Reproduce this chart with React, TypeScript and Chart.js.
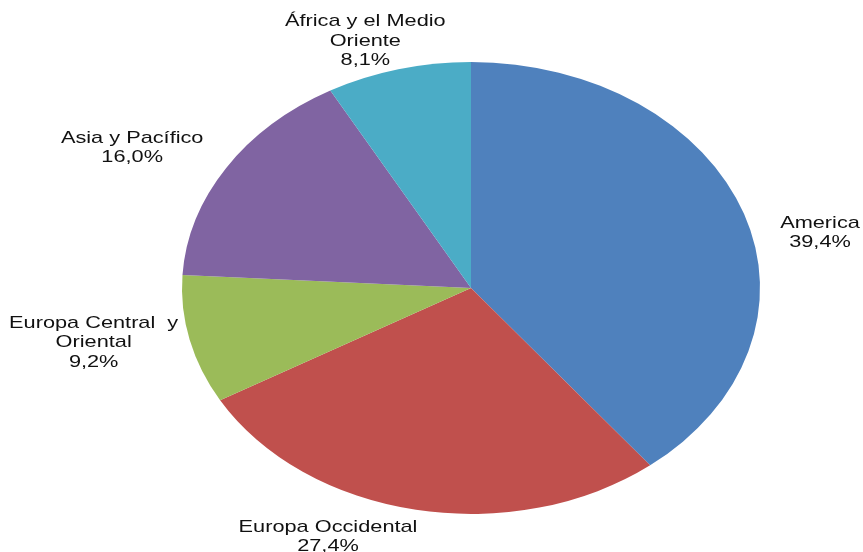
import React, { useEffect, useRef } from "react";
import { Chart, registerables } from "chart.js";

Chart.register(...registerables);

const categories = [
  "America",
  "Europa Occidental",
  "Europa Central  y\nOriental",
  "Asia y Pacífico",
  "África y el Medio\nOriente",
];
const shares = [39.4, 27.4, 9.2, 16.0, 8.1];
const sliceColors = ["#4F81BD", "#C0504D", "#9BBB59", "#8064A2", "#4BACC6"];

// label nudges (px) from the slice's outer edge midpoint
const labelNudges: [number, number][] = [
  [76, 19],
  [-88, 27],
  [-96, 3],
  [-94, -20],
  [-33, -28],
];

const X_STRETCH = 289 / 226;

export default function App() {
  const ref = useRef<HTMLCanvasElement | null>(null);

  useEffect(() => {
    if (!ref.current) return;
    const ellipsePlugin = {
      id: "ellipse",
      beforeDatasetsDraw(chart: any) {
        const meta = chart.getDatasetMeta(0);
        const a = meta.data[0];
        const ctx = chart.ctx;
        ctx.save();
        ctx.translate(a.x, a.y);
        ctx.scale(X_STRETCH, 1);
        ctx.translate(-a.x, -a.y);
      },
      afterDatasetsDraw(chart: any) {
        chart.ctx.restore();
      },
      afterDraw(chart: any) {
        const ctx = chart.ctx;
        const meta = chart.getDatasetMeta(0);
        ctx.save();
        ctx.font = '17px "Liberation Sans", Arial, sans-serif';
        ctx.fillStyle = "#111";
        ctx.textAlign = "center";
        ctx.textBaseline = "middle";
        const lh = 19.5;
        meta.data.forEach((arc: any, i: number) => {
          const mid = (arc.startAngle + arc.endAngle) / 2;
          const ex = arc.x + arc.outerRadius * X_STRETCH * Math.cos(mid);
          const ey = arc.y + arc.outerRadius * Math.sin(mid);
          const cx = ex + labelNudges[i][0];
          const cy = ey + labelNudges[i][1];
          const lines = categories[i].split("\n");
          lines.push(shares[i].toFixed(1).replace(".", ",") + "%");
          const n = lines.length;
          lines.forEach((t, j) => {
            ctx.save();
            ctx.translate(cx, cy + (j - (n - 1) / 2) * lh);
            ctx.scale(X_STRETCH, 1);
            ctx.fillText(t, 0, 0);
            ctx.restore();
          });
        });
        ctx.restore();
      },
    };

    const chart = new Chart(ref.current, {
      type: "pie",
      data: {
        labels: categories,
        datasets: [
          {
            data: shares,
            backgroundColor: sliceColors,
            borderWidth: 0,
          },
        ],
      },
      options: {
        animation: false,
        responsive: true,
        maintainAspectRatio: false,
        layout: { padding: { left: 200, right: 121, top: 62, bottom: 38 } },
        plugins: {
          legend: { display: false },
          tooltip: { enabled: false },
        },
      },
      plugins: [ellipsePlugin],
    });
    return () => chart.destroy();
  }, []);

  return (
    <div
      style={{
        position: "fixed",
        left: 0,
        top: 0,
        width: 863,
        height: 552,
        background: "#fff",
      }}
    >
      <canvas ref={ref} />
    </div>
  );
}
